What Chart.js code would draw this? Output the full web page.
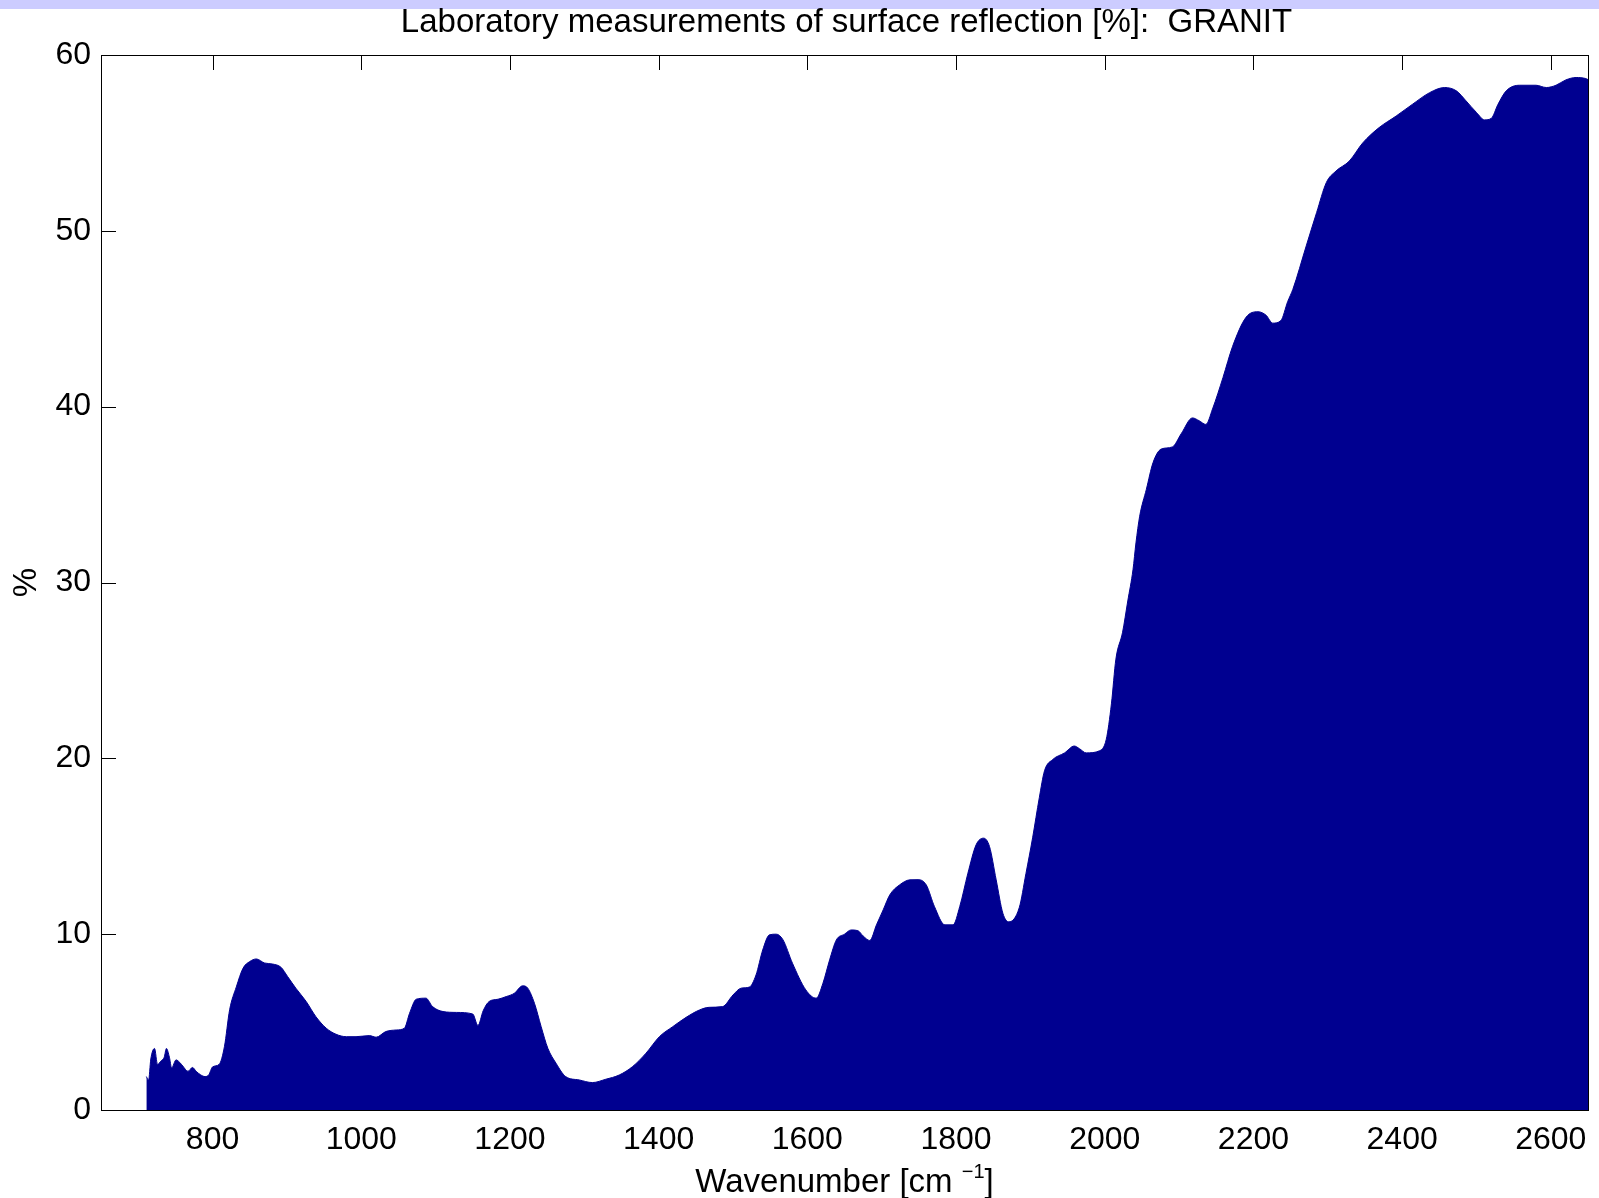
<!DOCTYPE html>
<html>
<head>
<meta charset="utf-8">
<title>GRANIT surface reflection</title>
<script src="https://cdn.jsdelivr.net/npm/chart.js@4/dist/chart.umd.min.js"></script>
<style>
  html, body { margin: 0; padding: 0; background: #ffffff; }
  #wrap { position: relative; width: 1599px; height: 1198px; }
</style>
</head>
<body>
<div id="wrap"><canvas id="spectrum"></canvas></div>
<script>
// Wavenumber samples [cm^-1]
const wavenumber = [
  711, 714, 717, 722, 726, 731, 735, 738, 742, 745, 751, 756, 760, 767, 773, 778, 784, 790, 795,
  800, 809, 816, 823, 832, 841, 850, 859, 870, 881, 892, 901, 912, 926, 939, 953, 966, 980, 993,
  1011, 1020, 1033, 1047, 1058, 1065, 1074, 1087, 1096, 1110, 1128, 1150, 1157, 1164, 1172, 1184,
  1195, 1206, 1217, 1224, 1233, 1242, 1251, 1262, 1275, 1293, 1311, 1329, 1347, 1365, 1383, 1401,
  1419, 1437, 1455, 1468, 1486, 1500, 1511, 1522, 1531, 1540, 1549, 1558, 1567, 1580, 1598, 1612,
  1621, 1630, 1639, 1650, 1659, 1668, 1675, 1684, 1693, 1702, 1711, 1724, 1738, 1749, 1760, 1771,
  1785, 1796, 1805, 1816, 1827, 1837, 1845, 1854, 1863, 1871, 1885, 1894, 1903, 1912, 1919, 1930,
  1946, 1959, 1966, 1975, 1993, 2002, 2009, 2015, 2024, 2031, 2038, 2042, 2047, 2056, 2065, 2076,
  2091, 2103, 2118, 2127, 2136, 2145, 2159, 2172, 2190, 2206, 2217, 2226, 2237, 2246, 2253, 2271,
  2285, 2298, 2311, 2329, 2347, 2369, 2392, 2414, 2437, 2457, 2473, 2486, 2500, 2511, 2520, 2529,
  2540, 2558, 2580, 2594, 2607, 2620, 2634, 2647, 2650
];

// Reflection [%]
const reflection = [
  1.9, 1.7, 2.9, 3.5, 2.6, 2.8, 3.0, 3.5, 3.0, 2.4, 2.85, 2.7, 2.5, 2.2, 2.42, 2.2, 2.0, 1.9, 2.0,
  2.45, 2.6, 3.6, 5.7, 7.0, 8.06, 8.44, 8.59, 8.36, 8.3, 8.12, 7.59, 6.93, 6.17, 5.31, 4.65, 4.31, 4.17, 4.17,
  4.23, 4.14, 4.46, 4.55, 4.65, 5.5, 6.3, 6.36, 5.88, 5.6, 5.55, 5.46, 4.8, 5.64, 6.17, 6.3,
  6.45, 6.64, 7.06, 6.93, 6.07, 4.74, 3.51, 2.66, 1.9, 1.71, 1.56, 1.75, 1.99, 2.47, 3.23, 4.17,
  4.74, 5.27, 5.69, 5.84, 5.88, 6.54, 6.93, 6.99, 7.68, 9.1, 9.96, 10.0, 9.7, 8.35, 6.83, 6.36,
  7.21, 8.54, 9.67, 10.0, 10.24, 10.2, 9.9, 9.64, 10.53, 11.38, 12.24, 12.8, 13.09, 13.1, 12.8, 11.57,
  10.53, 10.53, 11.57, 13.47, 15.08, 15.46, 14.99, 13.09, 11.19, 10.7, 11.5, 13.44, 15.48, 17.76, 19.29, 19.93,
  20.31, 20.7, 20.55, 20.31, 20.43, 21.07, 23.1, 25.64, 27.17, 28.95, 30.72, 32.25, 33.77, 35.3, 36.82, 37.59,
  37.71, 38.47, 39.36, 39.2, 38.99, 39.87, 41.65, 43.43, 45.08, 45.4, 45.2, 44.75, 44.9, 45.97, 46.67, 49.14,
  51.04, 52.74, 53.4, 53.97, 55.0, 55.87, 56.53, 57.2, 57.86, 58.15, 57.96, 57.39, 56.73, 56.31, 56.4, 57.2,
  57.96, 58.28, 58.28, 58.15, 58.28, 58.58, 58.72, 58.66, 58.6
];

// Axis ticks
const xTicks = [800, 1000, 1200, 1400, 1600, 1800, 2000, 2200, 2400, 2600];
const yTicks = [0, 10, 20, 30, 40, 50, 60];

const titleText = 'Laboratory measurements of surface reflection [%]:  GRANIT';
const xTitleMain = 'Wavenumber [cm';
const xTitleSup = '\u22121';
const xTitleEnd = ']';
const yTitleText = '%';

const FONT = '"Liberation Sans", Arial, Helvetica, sans-serif';
const FILL = '#000090';
const TICK_LEN = 15;
const LABEL_SIZE = 33;
const TICK_SIZE = 32;

const points = wavenumber.map((w, i) => ({ x: w, y: reflection[i] }));

// Frame, inward ticks, title and axis labels in the MATLAB style
const framePlugin = {
  id: 'matlabFrame',
  beforeDraw(chart) {
    const ctx = chart.ctx;
    ctx.save();
    ctx.fillStyle = '#ffffff';
    ctx.fillRect(0, 0, chart.width, chart.height);
    ctx.fillStyle = '#ccccff';
    ctx.fillRect(0, 0, chart.width, 9);
    ctx.restore();
  },
  beforeDatasetsDraw(chart) {
    const { ctx, chartArea: a, scales } = chart;
    ctx.save();
    ctx.strokeStyle = '#000000';
    ctx.lineWidth = 1;
    ctx.beginPath();
    xTicks.forEach(v => {
      const x = Math.round(scales.x.getPixelForValue(v)) + 0.5;
      ctx.moveTo(x, a.top); ctx.lineTo(x, a.top + TICK_LEN);
      ctx.moveTo(x, a.bottom); ctx.lineTo(x, a.bottom - TICK_LEN);
    });
    yTicks.forEach(v => {
      const y = Math.round(scales.y.getPixelForValue(v)) + 0.5;
      ctx.moveTo(a.left, y); ctx.lineTo(a.left + TICK_LEN, y);
      ctx.moveTo(a.right, y); ctx.lineTo(a.right - TICK_LEN, y);
    });
    ctx.stroke();
    ctx.restore();
  },
  afterDatasetsDraw(chart) {
    const { ctx, chartArea: a } = chart;
    ctx.save();
    // box
    ctx.strokeStyle = '#000000';
    ctx.lineWidth = 1;
    ctx.strokeRect(Math.round(a.left) + 0.5, Math.round(a.top) + 0.5,
                   Math.round(a.right - a.left), Math.round(a.bottom - a.top));

    const cx = (a.left + a.right) / 2;
    ctx.fillStyle = '#000000';
    ctx.textBaseline = 'alphabetic';

    // title
    ctx.font = LABEL_SIZE + 'px ' + FONT;
    ctx.textAlign = 'center';
    ctx.fillText(titleText, cx + 2, 32);

    // x axis title with superscript
    ctx.textAlign = 'left';
    ctx.font = LABEL_SIZE + 'px ' + FONT;
    const wMain = ctx.measureText(xTitleMain + ' ').width;
    const wEnd = ctx.measureText(xTitleEnd).width;
    ctx.font = '20px ' + FONT;
    const wSup = ctx.measureText(xTitleSup).width;
    const total = wMain + wSup + wEnd;
    const x0 = cx - total / 2;
    const base = 1192;
    ctx.font = LABEL_SIZE + 'px ' + FONT;
    ctx.fillText(xTitleMain, x0, base);
    ctx.font = '20px ' + FONT;
    ctx.fillText(xTitleSup, x0 + wMain, base - 14);
    ctx.font = LABEL_SIZE + 'px ' + FONT;
    ctx.fillText(xTitleEnd, x0 + wMain + wSup, base);

    // y axis title
    ctx.translate(27, (a.top + a.bottom) / 2);
    ctx.rotate(-Math.PI / 2);
    ctx.textAlign = 'center';
    ctx.textBaseline = 'middle';
    ctx.font = LABEL_SIZE + 'px ' + FONT;
    ctx.fillText(yTitleText, 0, 0);
    ctx.restore();
  }
};

new Chart(document.getElementById('spectrum'), {
  type: 'line',
  data: {
    datasets: [{
      data: points,
      borderColor: FILL,
      backgroundColor: FILL,
      borderWidth: 1,
      fill: 'origin',
      pointRadius: 0,
      cubicInterpolationMode: 'monotone'
    }]
  },
  options: {
    responsive: true,
    maintainAspectRatio: false,
    animation: false,
    events: [],
    layout: { padding: { top: 55, right: 11, left: 0, bottom: 0 } },
    plugins: { legend: { display: false }, title: { display: false }, tooltip: { enabled: false } },
    scales: {
      x: {
        type: 'linear',
        min: 650,
        max: 2650,
        grid: { display: false, drawTicks: false },
        border: { display: false },
        afterBuildTicks: s => { s.ticks = xTicks.map(v => ({ value: v })); },
        afterFit: s => { s.height = 88; },
        ticks: {
          autoSkip: false,
          maxRotation: 0,
          padding: 11,
          color: '#000000',
          font: { family: FONT, size: TICK_SIZE },
          callback: v => String(v)
        }
      },
      y: {
        type: 'linear',
        min: 0,
        max: 60,
        grid: { display: false, drawTicks: false },
        border: { display: false },
        afterBuildTicks: s => { s.ticks = yTicks.map(v => ({ value: v })); },
        afterFit: s => { s.width = 101; },
        ticks: {
          autoSkip: false,
          padding: 10,
          color: '#000000',
          font: { family: FONT, size: TICK_SIZE },
          callback: v => String(v)
        }
      }
    }
  },
  plugins: [framePlugin]
});
</script>
</body>
</html>
